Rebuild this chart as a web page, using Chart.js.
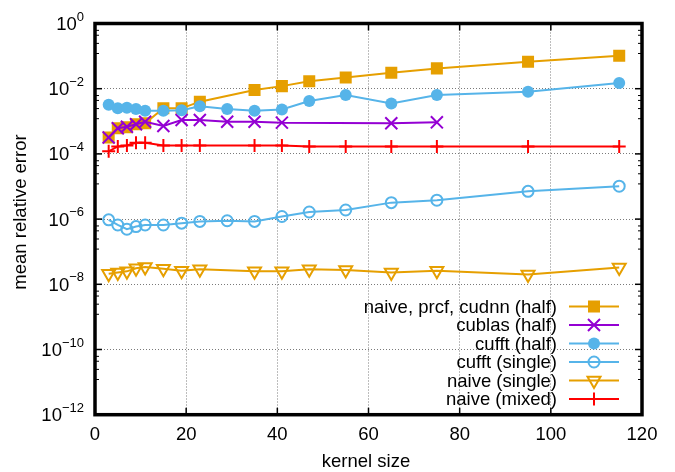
<!DOCTYPE html>
<html>
<head>
<meta charset="utf-8">
<script src="https://cdn.jsdelivr.net/npm/chart.js@4.4.1/dist/chart.umd.min.js"></script>
<style>
  html, body { margin: 0; padding: 0; background: #fff; }
</style>
</head>
<body>
<canvas id="chart" width="675" height="472"></canvas>
<script>
// kernel sizes (x) for the different runs
const kernelMain = [3, 5, 7, 9, 11, 15, 19, 23, 35, 41, 47, 55, 65, 75, 95, 115];
const kernelFft = [3, 5, 7, 9, 11, 15, 19, 23, 29, 35, 41, 47, 55, 65, 75, 95, 115];
const kernelCublas = [3, 5, 7, 9, 11, 15, 19, 23, 29, 35, 41, 65, 75];

// mean relative error
const naiveHalf = [3.2e-4, 6.1e-4, 6.6e-4, 8.1e-4, 8.7e-4, 2.5e-3, 2.5e-3, 4.0e-3, 9.1e-3, 1.2e-2, 1.7e-2, 2.2e-2, 3.1e-2, 4.2e-2, 6.7e-2, 1.03e-1];
const cublasHalf = [3.2e-4, 6.1e-4, 6.8e-4, 8.1e-4, 9.7e-4, 7.2e-4, 1.1e-3, 1.1e-3, 9.7e-4, 9.7e-4, 9.1e-4, 8.7e-4, 9.3e-4];
const cufftHalf = [3.2e-3, 2.5e-3, 2.6e-3, 2.4e-3, 2.1e-3, 2.1e-3, 2.2e-3, 2.9e-3, 2.4e-3, 2.1e-3, 2.3e-3, 4.2e-3, 6.4e-3, 3.5e-3, 6.4e-3, 8.1e-3, 1.5e-2];
const cufftSingle = [9.5e-7, 6.6e-7, 4.9e-7, 5.9e-7, 6.6e-7, 6.6e-7, 7.5e-7, 8.5e-7, 8.9e-7, 8.5e-7, 1.2e-6, 1.65e-6, 1.9e-6, 3.2e-6, 3.8e-6, 7.1e-6, 1.02e-5];
const naiveSingle = [2.1e-8, 2.3e-8, 2.5e-8, 3.1e-8, 3.4e-8, 3.0e-8, 2.6e-8, 2.9e-8, 2.5e-8, 2.5e-8, 2.9e-8, 2.75e-8, 2.3e-8, 2.6e-8, 2.0e-8, 3.3e-8];
const naiveMixed = [1.2e-4, 1.7e-4, 1.8e-4, 2.2e-4, 2.2e-4, 1.8e-4, 1.8e-4, 1.8e-4, 1.8e-4, 1.8e-4, 1.7e-4, 1.7e-4, 1.7e-4, 1.7e-4, 1.7e-4, 1.7e-4];

const seriesLabels = ["naive, prcf, cudnn (half)", "cublas (half)", "cufft (half)", "cufft (single)", "naive (single)", "naive (mixed)"];

// axis ticks
const xTicks = [0, 20, 40, 60, 80, 100, 120];
const yExponents = [0, -2, -4, -6, -8, -10, -12];

const FONT = "'Liberation Sans', Arial, Helvetica, sans-serif";

function pairs(xs, ys) {
  return xs.map((x, i) => ({ x: x, y: ys[i] }));
}

const styles = [
  { color: "#e69f00", pointStyle: "rect", radius: 8.5, fill: true, rotation: 0 },
  { color: "#9400d3", pointStyle: "crossRot", radius: 8.5, fill: false, rotation: 0 },
  { color: "#56b4e9", pointStyle: "circle", radius: 6, fill: true, rotation: 0 },
  { color: "#56b4e9", pointStyle: "circle", radius: 5.5, fill: false, rotation: 0 },
  { color: "#e69f00", pointStyle: "triangle", radius: 7.5, fill: false, rotation: 180 },
  { color: "#ff0000", pointStyle: "cross", radius: 6.5, fill: false, rotation: 0 },
];

const seriesData = [
  pairs(kernelMain, naiveHalf),
  pairs(kernelCublas, cublasHalf),
  pairs(kernelFft, cufftHalf),
  pairs(kernelFft, cufftSingle),
  pairs(kernelMain, naiveSingle),
  pairs(kernelMain, naiveMixed),
];

const datasets = seriesData.map((data, i) => {
  const s = styles[i];
  return {
    label: seriesLabels[i],
    data: data,
    borderColor: s.color,
    borderWidth: 2,
    pointStyle: s.pointStyle,
    pointRadius: s.radius,
    pointRotation: s.rotation,
    pointBackgroundColor: s.fill ? s.color : "rgba(0,0,0,0)",
    pointBorderColor: s.color,
    pointBorderWidth: s.fill ? 0 : 2,
    tension: 0,
    // later series drawn on top, like gnuplot
    order: seriesLabels.length - i,
  };
});

// frame, ticks, y labels, axis titles and the legend
const decorPlugin = {
  id: "decor",
  afterDraw(chart) {
    const { ctx, chartArea: a } = chart;
    const xs = chart.scales.x;
    const ys = chart.scales.y;
    ctx.save();

    function seg(x1, y1, x2, y2) {
      ctx.beginPath();
      ctx.moveTo(x1, y1);
      ctx.lineTo(x2, y2);
      ctx.stroke();
    }

    ctx.strokeStyle = "#000";
    ctx.lineWidth = 1.5;
    xTicks.forEach((v) => {
      const px = xs.getPixelForValue(v);
      seg(px, a.bottom, px, a.bottom - 7);
      seg(px, a.top, px, a.top + 7);
    });
    yExponents.forEach((e) => {
      const py = ys.getPixelForValue(Math.pow(10, e));
      seg(a.left, py, a.left + 7, py);
      seg(a.right, py, a.right - 7, py);
    });
    // minor ticks between the 100x majors
    const minorFrac = [0.21, 0.36, 0.61, 0.92];
    ctx.lineWidth = 1;
    yExponents.slice(0, -1).forEach((e) => {
      minorFrac.forEach((f) => {
        const py = ys.getPixelForValue(Math.pow(10, e - f));
        seg(a.left, py, a.left + 4, py);
        seg(a.right, py, a.right - 4, py);
      });
    });

    ctx.lineWidth = 3.5;
    ctx.strokeRect(a.left, a.top, a.right - a.left, a.bottom - a.top);

    // y tick labels with superscript exponents
    ctx.fillStyle = "#000";
    ctx.textAlign = "right";
    ctx.textBaseline = "middle";
    yExponents.forEach((e) => {
      const py = ys.getPixelForValue(Math.pow(10, e));
      const sup = e === 0 ? "0" : "\u2212" + Math.abs(e);
      ctx.font = "13px " + FONT;
      const w = ctx.measureText(sup).width;
      ctx.fillText(sup, 84, py - 6.5);
      ctx.font = "18.5px " + FONT;
      ctx.fillText("10", 84 - w, py + 1.5);
    });

    // axis titles
    ctx.font = "18.5px " + FONT;
    ctx.textAlign = "center";
    ctx.fillText("kernel size", 366, 462);
    ctx.save();
    ctx.translate(21, 212);
    ctx.rotate(-Math.PI / 2);
    ctx.fillText("mean relative error", 0, 0);
    ctx.restore();

    // legend
    const drawPoint = Chart.helpers && Chart.helpers.drawPoint;
    seriesLabels.forEach((label, i) => {
      const s = styles[i];
      const ly = 306.5 + i * 18.5;
      ctx.fillStyle = "#000";
      ctx.textAlign = "right";
      ctx.font = "18.5px " + FONT;
      ctx.fillText(label, 557, ly + 1);
      ctx.strokeStyle = s.color;
      ctx.lineWidth = 2;
      seg(569, ly, 619, ly);
      if (drawPoint) {
        ctx.fillStyle = s.fill ? s.color : "rgba(0,0,0,0)";
        drawPoint(ctx, {
          pointStyle: s.pointStyle,
          radius: s.radius,
          rotation: s.rotation,
          borderWidth: s.fill ? 0 : 2,
        }, 594, ly);
      }
    });

    ctx.restore();
  },
};

new Chart(document.getElementById("chart"), {
  type: "line",
  data: { datasets: datasets },
  options: {
    responsive: false,
    devicePixelRatio: 1,
    animation: false,
    layout: { padding: { top: 23.5, right: 33, left: 0, bottom: 0 } },
    plugins: {
      legend: { display: false },
      tooltip: { enabled: false },
    },
    scales: {
      x: {
        type: "linear",
        min: 0,
        max: 120,
        afterBuildTicks: (scale) => {
          scale.ticks = xTicks.map((v) => ({ value: v }));
        },
        afterFit: (scale) => {
          scale.height = 57.3;
        },
        ticks: {
          padding: 9,
          color: "#000",
          font: { family: FONT, size: 18.5 },
          maxRotation: 0,
        },
        grid: {
          color: "#7a7a7a",
          lineWidth: 1,
          drawTicks: false,
        },
        border: { display: false, dash: [1, 2] },
      },
      y: {
        type: "logarithmic",
        min: 1e-12,
        max: 1,
        afterBuildTicks: (scale) => {
          scale.ticks = yExponents.map((e) => ({ value: Math.pow(10, e) }));
        },
        afterFit: (scale) => {
          scale.width = 95;
        },
        ticks: { display: false },
        grid: {
          color: "#7a7a7a",
          lineWidth: 1,
          drawTicks: false,
        },
        border: { display: false, dash: [1, 2] },
      },
    },
  },
  plugins: [decorPlugin],
});
</script>
</body>
</html>
